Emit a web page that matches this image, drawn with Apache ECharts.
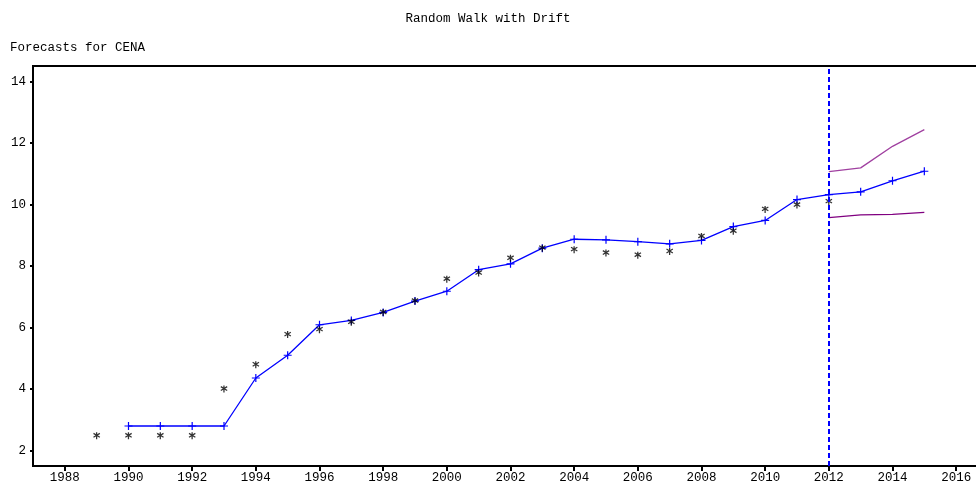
<!DOCTYPE html>
<html>
<head>
<meta charset="utf-8">
<script src="https://cdn.jsdelivr.net/npm/echarts@6/dist/echarts.min.js"></script>
<style>html,body{margin:0;padding:0;background:#fff}#c{width:976px;height:492px}</style>
</head>
<body>
<div id="c"></div>
<script>
var actualYears = [1989,1990,1991,1992,1993,1994,1995,1996,1997,1998,1999,2000,2001,2002,2003,2004,2005,2006,2007,2008,2009,2010,2011,2012];
var actualValues = [2.48,2.48,2.48,2.48,4.00,4.79,5.77,5.93,6.17,6.49,6.86,7.57,7.77,8.25,8.58,8.53,8.42,8.35,8.47,8.96,9.13,9.84,9.98,10.09];
var fitYears = [1990,1991,1992,1993,1994,1995,1996,1997,1998,1999,2000,2001,2002,2003,2004,2005,2006,2007,2008,2009,2010,2011,2012,2013,2014,2015];
var fitValues = [2.80,2.80,2.80,2.80,4.36,5.10,6.09,6.23,6.49,6.86,7.18,7.88,8.07,8.58,8.87,8.85,8.79,8.72,8.83,9.28,9.48,10.16,10.32,10.41,10.77,11.08];
var boundYears = [2012,2013,2014,2015];
var upperValues = [11.07,11.19,11.89,12.43];
var lowerValues = [9.57,9.66,9.68,9.74];
var forecastStart = 2012;
var xTicks = [1988,1990,1992,1994,1996,1998,2000,2002,2004,2006,2008,2010,2012,2014,2016];
var yTicks = [2,4,6,8,10,12,14];

function pairs(xs, ys){ return xs.map(function(x,i){ return [x, ys[i]]; }); }

var font = 'Liberation Mono';
var plusPath = 'path://M0,3.4h8v1.2h-8z M3.4,0h1.2v8h-1.2z';
var starPath = 'path://M3.3,0h1.4v8h-1.4z M0.2,1.8l0.7,-1.2l7,4.4l-0.7,1.2z M0.2,5l7,-4.4l0.7,1.2l-7,4.4z';

var chart = echarts.init(document.getElementById('c'));
chart.setOption({
  backgroundColor: '#fff',
  animation: false,
  title: [
    {text: 'Random Walk with Drift', left: 'center', top: 7, textStyle: {fontFamily: font, fontSize: 12.5, fontWeight: 'normal', color: '#000'}},
    {text: 'Forecasts for CENA', left: 5, top: 36, textStyle: {fontFamily: font, fontSize: 12.5, fontWeight: 'normal', color: '#000'}}
  ],
  grid: {left: 33, top: 66, width: 955, height: 400, show: true, borderColor: '#000', borderWidth: 2, backgroundColor: 'transparent', containLabel: false, outerBoundsMode: 'none'},
  xAxis: {
    type: 'value', min: 1987, max: 2017,
    axisLine: {lineStyle: {color: '#000', width: 2}},
    axisTick: {show: true, length: 5, lineStyle: {color: '#000', width: 2}, customValues: xTicks},
    axisLabel: {customValues: xTicks, formatter: function(v){ return String(v); }, fontFamily: font, fontSize: 12.5, color: '#000', margin: 5},
    splitLine: {show: false}
  },
  yAxis: {
    type: 'value', min: 1.5, max: 14.5,
    axisLine: {show: true, lineStyle: {color: '#000', width: 2}},
    axisTick: {show: true, length: 3, lineStyle: {color: '#000', width: 2}, customValues: yTicks},
    axisLabel: {customValues: yTicks, formatter: function(v){ return String(v); }, fontFamily: font, fontSize: 12.5, color: '#000', margin: 7},
    splitLine: {show: false}
  },
  series: [
    {
      type: 'line', data: pairs(fitYears, fitValues), symbol: plusPath, symbolSize: 8,
      lineStyle: {color: '#0000ff', width: 1.3}, itemStyle: {color: '#0000ff'}, z: 3,
      markLine: {
        silent: true, symbol: 'none', label: {show: false},
        lineStyle: {color: '#0000ff', width: 2, type: [5, 3]},
        data: [{xAxis: forecastStart}]
      }
    },
    {type: 'line', data: pairs(boundYears, upperValues), symbol: 'none', lineStyle: {color: '#a040a0', width: 1.3}},
    {type: 'line', data: pairs(boundYears, lowerValues), symbol: 'none', lineStyle: {color: '#800080', width: 1.3}},
    {type: 'scatter', data: pairs(actualYears, actualValues), symbol: starPath, symbolSize: 7, itemStyle: {color: '#000'}, z: 4}
  ]
});
</script>
</body>
</html>
